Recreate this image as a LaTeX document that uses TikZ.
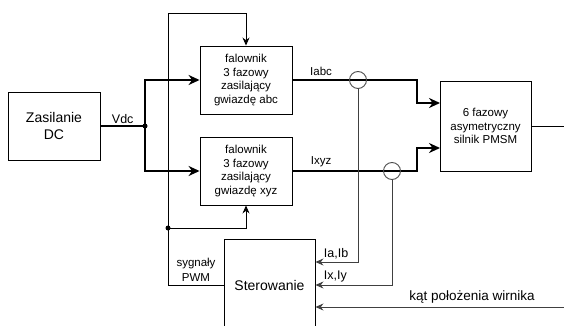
\documentclass[tikz,border=0pt]{standalone}
\usepackage{fontspec}
\setmainfont{Liberation Sans}
\usetikzlibrary{arrows.meta,positioning}
\tikzset{
		block/.style = {% define a style for the boxes of the scheme
		draw=black,
		line width=0.9pt,
		fill=white,
		align=center,
		inner sep=1pt,
		font=#1,
	},
	block/.default = {\fontsize{11.5}{13.5}\selectfont},
	power/.style = {% thick supply and phase lines
		line width=2pt,
		-{Stealth[length=11pt,width=10pt]},
	},
	sig/.style = {% thin control lines
		line width=0.9pt,
		-{Stealth[length=8pt,width=7pt]},
	},
	meas/.style = {% measured currents
		draw=black!75,
		line width=1pt,
		-{Stealth[length=8pt,width=7pt]},
	},
	sensor/.style = {circle, draw=black!70, line width=0.9pt, minimum size=17pt, inner sep=0pt},
	label/.style = {font=\fontsize{11.5}{13.5}\selectfont, inner sep=1pt},
}

\begin{document}
\begin{tikzpicture}[x=1pt, y=-1pt]
		\clip (0,0) rectangle (564,326);
		% boxes
		\node[block={\fontsize{14}{17}\selectfont}, minimum width=92pt, minimum height=68pt] (zas) at (54,126) {Zasilanie\\DC};
		\node[block, minimum width=92pt, minimum height=68pt] (fal1) at (246,80) {falownik\\3 fazowy\\zasilający\\gwiazdę abc};
		\node[block, minimum width=92pt, minimum height=68pt] (fal2) at (246,171) {falownik\\3 fazowy\\zasilający\\gwiazdę xyz};
		\node[block, minimum width=91pt, minimum height=90pt] (motor) at (485.5,126) {6 fazowy\\asymetryczny\\silnik PMSM};
		\node[block={\fontsize{14}{17}\selectfont}, minimum width=91pt, minimum height=92pt] (ster) at (269.5,285) {Sterowanie};
		% helper points
		\coordinate (jv) at (145,126);
		\coordinate (jp) at (168,228);
		\coordinate (ptop) at (168,13);
		\coordinate (b1) at (417,80);
		\coordinate (b2) at (417,171);
		\coordinate (in1) at (440,103);
		\coordinate (in2) at (440,148);
		\coordinate (out) at (564,126);
		\coordinate (kin) at (564,307);
		% DC link
		\draw[line width=1.3pt] (zas.east) -- node[label, above=1pt, font=\fontsize{12.5}{14}\selectfont]{Vdc} (jv);
		\draw[power] (jv) |- (fal1.west);
		\draw[power] (jv) |- (fal2.west);
		\fill (jv) circle (2.5pt);
		% PWM signals
		\draw[sig] (ster.west) -| (ptop) -| (fal1.north);
		\draw[sig] (jp) -| (fal2.south);
		\fill (jp) circle (2.5pt);
		\node[label, align=center, font=\fontsize{11.5}{15}\selectfont] (pwm) at (196,270) {sygnały\\PWM};
		% phase currents
		\draw[power] (fal1.east) -- node[label, above=2pt, pos=0.23]{Iabc} (b1) |- (in1);
		\draw[power] (fal2.east) -- node[label, above=2pt, pos=0.23]{Ixyz} (b2) |- (in2);
		\node[sensor] (s1) at (358,80) {};
		\node[sensor] (s2) at (392,171) {};
		\draw[meas] (s1.south) |- (ster.east |- 0,262) node[label, above right=1pt and 7pt, font=\fontsize{12.5}{14}\selectfont]{Ia,Ib};
		\draw[meas] (s2.south) |- (ster.east |- 0,285) node[label, above right=1pt and 7pt, font=\fontsize{12.5}{14}\selectfont]{Ix,Iy};
		\draw[meas] (kin) -- node[label, above=2pt, pos=0.37, font=\fontsize{13.5}{16}\selectfont]{kąt położenia wirnika} (ster.east |- kin);
		% motor shaft
		\draw[line width=0.9pt] (motor.east) -- (out);
\end{tikzpicture}
\end{document}
